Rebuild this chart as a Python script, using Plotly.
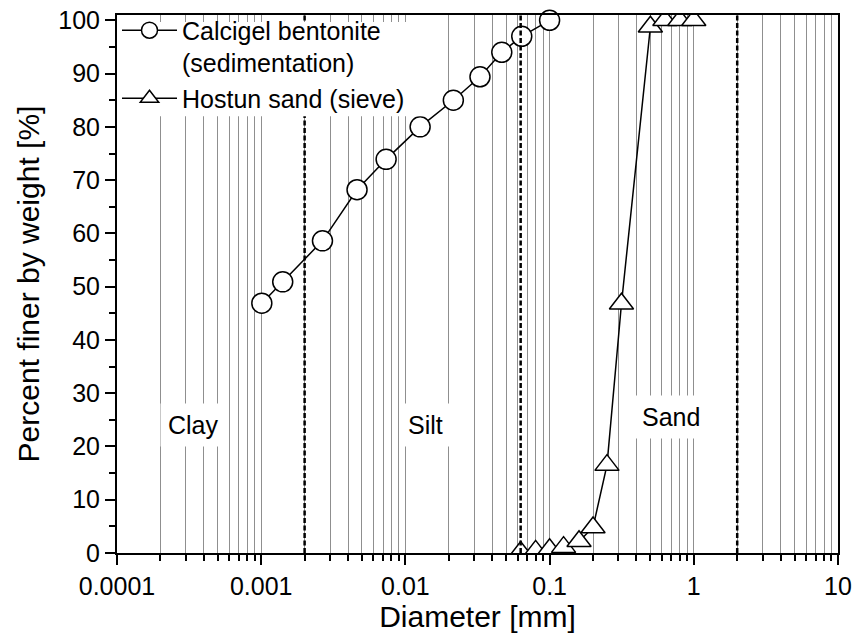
import math
import plotly.graph_objects as go

# ---- data ----
bentonite_d = [0.00101, 0.00141, 0.00266, 0.00462, 0.00735, 0.01265, 0.0215, 0.0329, 0.0466, 0.0641, 0.1]
bentonite_p = [46.9, 50.9, 58.6, 68.2, 73.9, 80.0, 85.0, 89.4, 94.0, 97.0, 100.0]

sand_d = [0.063, 0.08, 0.1, 0.125, 0.16, 0.2, 0.25, 0.315, 0.5, 0.63, 0.8, 1.0]
sand_p = [0.2, 0.4, 0.7, 1.1, 2.2, 4.8, 16.5, 46.8, 98.8, 100.0, 100.0, 100.0]

series_names = ["Calcigel bentonite<br>(sedimentation)", "Hostun sand (sieve)"]

boundaries = [0.002, 0.063, 2.0]
class_labels = ["Clay", "Silt", "Sand"]
class_label_x = [0.00034, 0.0137, 0.70]
class_label_y = [24.0, 24.0, 25.5]

x_tick_vals = [0.0001, 0.001, 0.01, 0.1, 1, 10]
x_tick_labels = ["0.0001", "0.001", "0.01", "0.1", "1", "10"]
x_minor_vals = [d * m for d in x_tick_vals[:-1] for m in range(2, 10)]

FONT = "Arial, Liberation Sans, sans-serif"
FS = 25
FT = 30

fig = go.Figure()

fig.add_trace(go.Scatter(
    x=bentonite_d, y=bentonite_p, name=series_names[0],
    mode="lines+markers",
    line=dict(color="black", width=1.5),
    marker=dict(symbol="circle", size=20, color="white",
                line=dict(color="black", width=1.5)),
    cliponaxis=False,
))
fig.add_trace(go.Scatter(
    x=sand_d, y=sand_p, name=series_names[1],
    mode="lines+markers",
    line=dict(color="black", width=1.5),
    marker=dict(symbol="triangle-up", size=21, color="white",
                line=dict(color="black", width=1.5)),
    cliponaxis=True,
))

for b in boundaries:
    fig.add_shape(type="line", xref="x", yref="paper", x0=b, x1=b, y0=0, y1=1,
                  line=dict(color="black", width=2.5, dash="5px,2.5px"), layer="above")

# white background behind the legend (hides grid and boundary lines there)
fig.add_shape(type="rect", xref="paper", yref="paper", x0=0.003, x1=0.427, y0=0.812, y1=0.987,
              line=dict(width=0), fillcolor="white", layer="above")

for lab, lx, ly in zip(class_labels, class_label_x, class_label_y):
    fig.add_annotation(x=math.log10(lx), y=ly, xref="x", yref="y", text=lab, showarrow=False,
                       font=dict(family=FONT, size=FS, color="black"),
                       bgcolor="white", borderpad=7)

grid_col = "#8f8f8f"
fig.update_layout(
    width=856, height=637,
    margin=dict(l=117, r=18, t=15, b=84, autoexpand=False),
    paper_bgcolor="white", plot_bgcolor="white",
    font=dict(family=FONT, size=FS, color="black"),
    showlegend=True,
    legend=dict(x=0, y=1.014, xanchor="left", yanchor="top", bgcolor="rgba(0,0,0,0)",
                font=dict(family=FONT, size=FS), valign="top",
                tracegroupgap=0, itemwidth=55, borderwidth=0),
    xaxis=dict(
        type="log", range=[-4, 1], automargin=False,
        tickmode="array", tickvals=x_tick_vals, ticktext=x_tick_labels,
        ticks="outside", ticklen=10, tickwidth=1.5, tickcolor="black",
        showline=True, linecolor="black", linewidth=2, mirror=True,
        showgrid=True, gridcolor=grid_col, gridwidth=1,
        minor=dict(tickmode="array", tickvals=x_minor_vals, ticks="outside",
                   ticklen=6, tickwidth=1.5, tickcolor="black",
                   showgrid=True, gridcolor=grid_col, gridwidth=1),
        title=dict(text="Diameter [mm]", font=dict(family=FONT, size=FT), standoff=2),
        tickfont=dict(family=FONT, size=FS),
        zeroline=False,
    ),
    yaxis=dict(
        range=[0, 101], tickmode="linear", tick0=0, dtick=10, automargin=False,
        ticks="outside", ticklen=10, tickwidth=1.5, tickcolor="black",
        showline=True, linecolor="black", linewidth=2, mirror=True,
        showgrid=False, zeroline=False,
        minor=dict(tick0=0, dtick=5, ticks="outside", ticklen=6, tickwidth=1.5,
                   tickcolor="black", showgrid=False),
        title=dict(text="Percent finer by weight [%]", font=dict(family=FONT, size=FT), standoff=10),
        tickfont=dict(family=FONT, size=FS),
    ),
    xaxis2=dict(
        type="log", range=[-4, 1], overlaying="x", anchor="y", side="top", automargin=False,
        tickmode="array", tickvals=x_tick_vals, showticklabels=False,
        ticks="inside", ticklen=10, tickwidth=1.5, tickcolor="black",
        minor=dict(tickmode="array", tickvals=x_minor_vals, ticks="inside",
                   ticklen=6, tickwidth=1.5, tickcolor="black", showgrid=False),
        showgrid=False, showline=False, zeroline=False,
    ),
    yaxis2=dict(
        range=[0, 101], overlaying="y", anchor="x", side="right", automargin=False,
        tickmode="linear", tick0=0, dtick=10, showticklabels=False,
        ticks="inside", ticklen=8, tickwidth=1.5, tickcolor="black",
        minor=dict(tick0=0, dtick=5, ticks="inside", ticklen=6, tickwidth=1.5,
                   tickcolor="black", showgrid=False),
        showgrid=False, showline=False, zeroline=False,
    ),
)

fig.write_html("out.html")
